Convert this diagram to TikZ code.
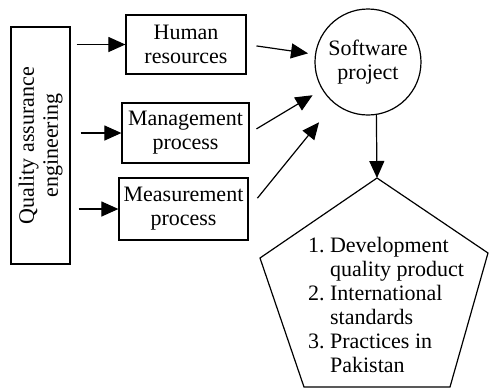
\documentclass[tikz,border=0pt]{standalone}
\usepackage{fontspec}
\setmainfont{Liberation Serif}
\usetikzlibrary{arrows.meta}

\begin{document}
\begin{tikzpicture}[
        x=0.5pt, y=-0.5pt, % one unit = one pixel of the sketch
        font=\fontsize{11}{12}\selectfont,
        box/.style={draw, line width=0.6pt, align=center, inner sep=1pt}, % rectangular blocks
        arr/.style={-{Triangle[length=8.5pt, width=7.5pt]}, line width=0.6pt}, % arrows
        line/.style={line width=0.6pt} % plain outlines
    ]
        \useasboundingbox (0,0) rectangle (489,388);

        % --- Left block (rotated text) ---
        \node[box, rotate=90, minimum width=118.5pt, minimum height=29.5pt] (qa) at (40.5,145.5)
            {Quality assurance\\engineering};

        % --- The three middle blocks ---
        \node[box, minimum width=60pt, minimum height=29.5pt] (hr) at (186,44.5) {Human\\resources};
        \node[box, minimum width=63.5pt, minimum height=30pt] (mp) at (185.5,133) {Management\\process};
        \node[box, minimum width=64.5pt, minimum height=31pt] (ms) at (183.5,209) {Measurement\\process};

        % --- Circle ---
        \node[circle, draw, line width=0.6pt, minimum size=53pt, align=center, inner sep=0pt] (sp) at (368,62)
            {Software\\project};

        % --- Pentagon with the outcomes ---
        \coordinate (ptop) at (377,178);
        \coordinate (pright) at (488,253);
        \coordinate (pbr) at (450,387);
        \coordinate (pbl) at (304,387);
        \coordinate (pleft) at (260,258);
        \draw[line] (ptop) -- (pright) -- (pbr) -- (pbl) -- (pleft) -- cycle;
        \node[align=left, inner sep=0pt] (out) at (386,308) {%
            \begin{tabular}{@{}r@{\ }l@{}}
                1. & Development\\
                   & quality product\\
                2. & International\\
                   & standards\\
                3. & Practices in\\
                   & Pakistan
            \end{tabular}};

        % --- Arrows from the left block ---
        \draw[arr, shorten <=3pt] (qa.south |- hr.west) -- (hr.west);
        \draw[arr, shorten <=5pt] (qa.south |- mp.west) -- (mp.west);
        \draw[arr, shorten <=4pt] (qa.south |- ms.west) -- (ms.west);

        % --- Arrows towards the circle ---
        \draw[arr, shorten <=5pt, shorten >=3.5pt] (hr.east) -- (sp);
        \draw[arr, shorten <=4pt, shorten >=5.5pt] (mp.east) -- (sp);
        \draw[arr, shorten <=7pt, shorten >=12pt] (ms.east) -- (sp);

        % --- Down to the pentagon ---
        \draw[arr] (sp.-81) -- (ptop);

    \end{tikzpicture}
\end{document}
